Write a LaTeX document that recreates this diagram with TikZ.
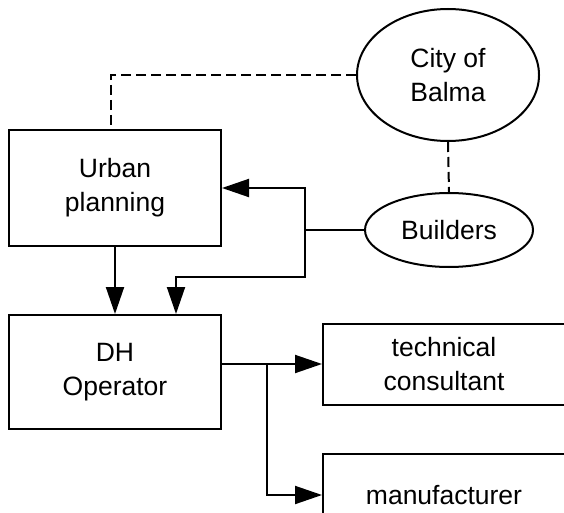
\documentclass[tikz,border=0pt]{standalone}
\usepackage{fontspec}
\setmainfont{Liberation Sans}
\usetikzlibrary{arrows.meta,shapes.geometric}

\begin{document}
\begin{tikzpicture}[x=1pt,y=-1pt,line width=2pt,
    font=\fontsize{26.5}{34}\selectfont,
    box/.style={draw,rectangle,align=center,inner sep=0pt},
    blob/.style={draw,ellipse,align=center,inner sep=0pt},
    link/.style={dash pattern=on 10pt off 5pt},
    flow/.style={-{Triangle[length=27pt,width=18pt]}}]
  \useasboundingbox (0,0) rectangle (564,513);
  \clip (0,0) rectangle (564,513);
  % actors
  \node[blob,minimum width=182,minimum height=132] (city) at (448,75) {City of\\Balma};
  \node[blob,minimum width=168,minimum height=74] (builders) at (449,230) {Builders};
  \node[box,minimum width=212,minimum height=116] (urban) at (115,188) {Urban\\planning};
  \node[box,minimum width=212,minimum height=114] (dh) at (115,372) {DH\\Operator};
  \node[box,minimum width=242,minimum height=81] (tech) at (444,364) {technical\\consultant};
  \node[box,minimum width=242,minimum height=82] (manu) at (444,495) {manufacturer};
  % junctions
  \coordinate (jb) at (305,230);
  \coordinate (jlow) at (305,277);
  \coordinate (jd) at (267,364);
  % dashed links
  \draw[link] (city.west) -| ([xshift=-4pt]urban.north);
  \draw[link] (city.south) -- (builders.north);
  % arrows
  \draw (builders.west) -- (jb);
  \draw[flow] (jb) |- (urban.east);
  \draw[flow] (jb) -- (jlow) -| ([xshift=61pt]dh.north);
  \draw[flow] (urban.south) -- (dh.north);
  \draw[flow] (dh.east |- tech.west) -- (tech.west);
  \draw[flow] (jd) |- (manu.west);
\end{tikzpicture}
\end{document}
